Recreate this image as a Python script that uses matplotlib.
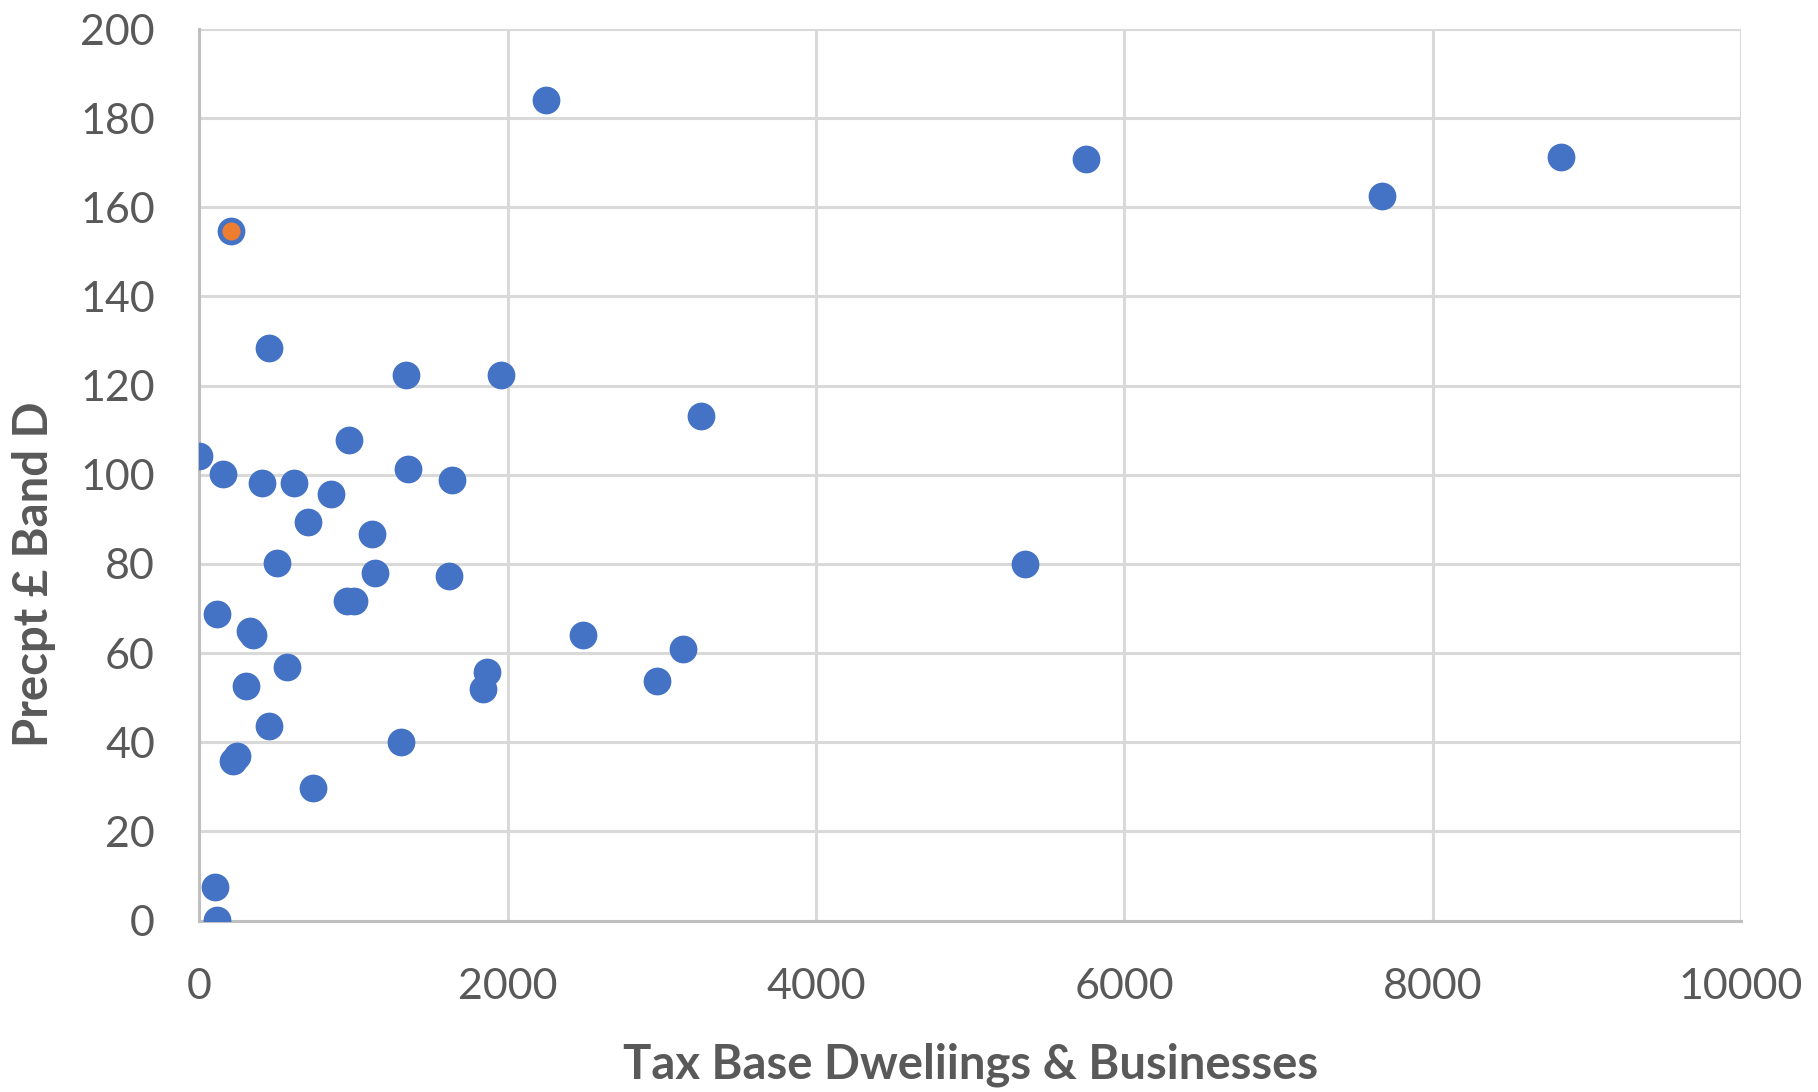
import matplotlib
matplotlib.use("Agg")
import matplotlib.pyplot as plt

# Tax base (dwellings & businesses) vs Band D precept
tax_base = [2248, 5752, 8835, 7669, 452, 1337, 1954, 3256, 0, 969,
            151, 403, 616, 855, 1351, 1636, 702, 1117, 503, 1136,
            1622, 5353, 2487, 116, 957, 1000, 330, 350, 3136, 568,
            1866, 1838, 2971, 301, 452, 1305, 243, 215, 735, 104, 116]
precept = [184.1, 170.9, 171.4, 162.5, 128.4, 122.3, 122.3, 113.3, 104.3, 107.8,
           100.1, 98.2, 98.2, 95.7, 101.3, 98.8, 89.3, 86.8, 80.3, 77.9,
           77.2, 80.1, 64.0, 68.8, 71.8, 71.8, 65.0, 64.0, 61.0, 56.8,
           55.8, 52.0, 53.8, 52.6, 43.6, 40.0, 36.9, 35.8, 29.8, 7.6, 0.1]

# highlighted authority
hl_base = [203]
hl_precept = [154.7]

x_ticks = [0, 2000, 4000, 6000, 8000, 10000]
y_ticks = [0, 20, 40, 60, 80, 100, 120, 140, 160, 180, 200]

plt.rcParams['font.family'] = ['Lato', 'DejaVu Sans']

fig = plt.figure(figsize=(18.18, 10.92), dpi=100)
ax = fig.add_axes([0.1097, 0.157, 0.848, 0.8164])

blue = '#4472C4'
ax.scatter(tax_base, precept, s=400, color=blue, zorder=3, linewidths=0)
ax.scatter(hl_base, hl_precept, s=400, color=blue, zorder=4, linewidths=0)
ax.scatter(hl_base, hl_precept, s=170, color='#ED7D31', zorder=5, linewidths=0)

ax.set_xlim(0, 10000)
ax.set_ylim(0, 200)
ax.set_xticks(x_ticks)
ax.set_yticks(y_ticks)
ax.grid(True, color='#D9D9D9', linewidth=2.2, zorder=0)
ax.set_axisbelow(True)
for side in ['top', 'right']:
    ax.spines[side].set_visible(False)
for side in ['left', 'bottom']:
    ax.spines[side].set_color('#BFBFBF')
    ax.spines[side].set_linewidth(2.2)

ax.tick_params(axis='both', length=0, labelsize=31, labelcolor='#595959')
ax.tick_params(axis='x', pad=34)
ax.tick_params(axis='y', pad=32)

ax.set_xlabel('Tax Base Dweliings & Businesses', fontsize=34, fontweight='bold',
              color='#595959')
ax.xaxis.set_label_coords(0.5, -0.137)
ax.set_ylabel('Precpt £ Band D', fontsize=34, fontweight='bold', color='#595959')
ax.yaxis.set_label_coords(-0.093, 0.388)

fig.savefig('out.png', dpi=100)
